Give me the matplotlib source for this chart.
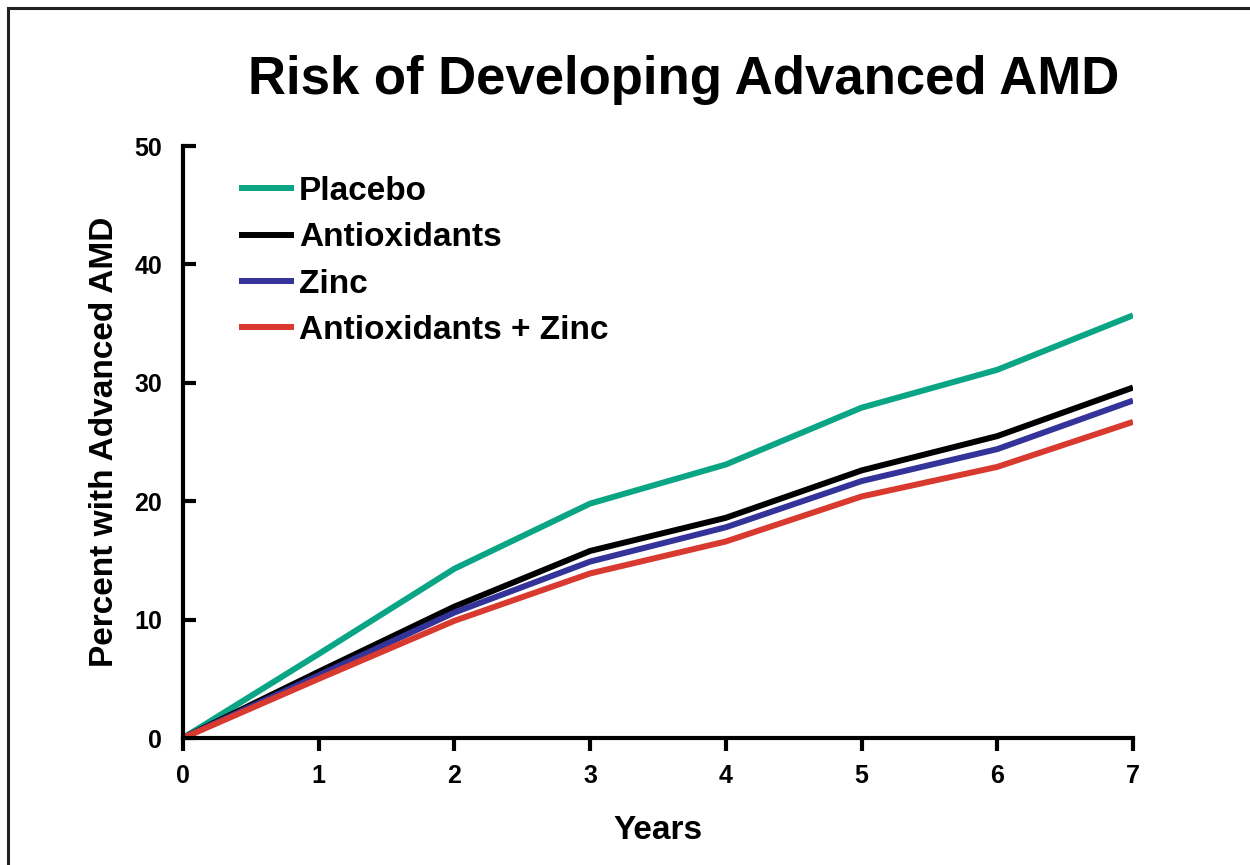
import matplotlib.pyplot as plt
from matplotlib.patches import Rectangle

plt.rcParams['font.family'] = ['Liberation Sans', 'DejaVu Sans']
plt.rcParams['font.weight'] = 'bold'

# data
years = [0, 1, 2, 3, 4, 5, 6, 7]
placebo = [0, 7.1, 14.3, 19.8, 23.1, 27.9, 31.1, 35.7]
antiox = [0, 5.6, 11.1, 15.8, 18.6, 22.6, 25.5, 29.6]
zinc = [0, 5.3, 10.6, 14.9, 17.8, 21.7, 24.4, 28.5]
antiox_zinc = [0, 5.0, 9.9, 13.9, 16.6, 20.4, 22.9, 26.7]
labels = ['Placebo', 'Antioxidants', 'Zinc', 'Antioxidants + Zinc']
colors = ['#0aa584', '#000000', '#333399', '#d93a2f']

fig = plt.figure(figsize=(12.5, 8.65), dpi=100)
# frame around the slide
fig.patches.append(Rectangle((8 / 1250, -0.1), 1.2, 1.1 - 8 / 865,
                             transform=fig.transFigure, fill=False,
                             edgecolor='#222222', lw=2.2, zorder=0))

ax = fig.add_axes([0.1464, 0.1468, 0.7600, 0.6844])
for ys, lab, c in zip([placebo, antiox, zinc, antiox_zinc], labels, colors):
    ax.plot(years, ys, color=c, lw=4.3, label=lab, solid_capstyle='butt')

ax.set_xlim(0, 7)
ax.set_ylim(0, 50)
ax.set_xticks(years)
ax.set_yticks([0, 10, 20, 30, 40, 50])
for s in ['top', 'right']:
    ax.spines[s].set_visible(False)
for s in ['left', 'bottom']:
    ax.spines[s].set_linewidth(3)
ax.tick_params(axis='y', direction='in', length=9, width=3, labelsize=18, pad=15)
ax.tick_params(axis='x', direction='out', length=9, width=3, labelsize=18, pad=10)
for t in ax.get_xticklabels() + ax.get_yticklabels():
    t.set_fontweight('bold')

ax.set_xlabel('Years', fontsize=24, fontweight='bold', labelpad=19)
ax.set_ylabel('Percent with Advanced AMD', fontsize=24, fontweight='bold', labelpad=10)
fig.text(0.547, 0.907, 'Risk of Developing Advanced AMD', fontsize=38,
         fontweight='bold', ha='center', va='center')

leg = ax.legend(loc='upper left', bbox_to_anchor=(0.045, 0.972), frameon=False,
                fontsize=24, handlelength=1.65, handletextpad=0.15, labelspacing=0.46,
                borderaxespad=0)
for t in leg.get_texts():
    t.set_fontweight('bold')

fig.savefig('out.png', dpi=100)
